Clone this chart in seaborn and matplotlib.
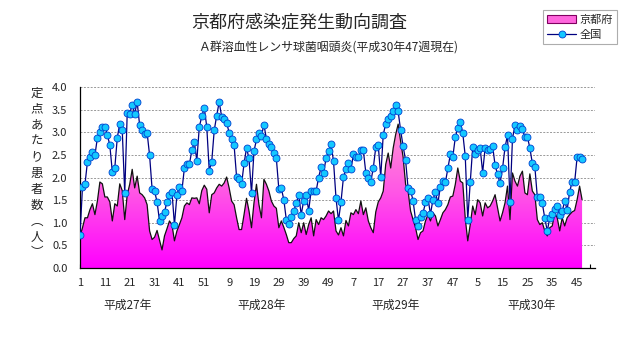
import numpy as np
import pandas as pd
import matplotlib
matplotlib.use("Agg")
import matplotlib.pyplot as plt
import seaborn as sns
from matplotlib.colors import LinearSegmentedColormap
from matplotlib.patches import Patch
from matplotlib.lines import Line2D

# ---------------- data ----------------
year_names = ["平成27年", "平成28年", "平成29年", "平成30年"]
weeks_per_year = [52, 52, 52, 47]
series_names = ["京都府", "全国"]

kyoto = [
    0.70, 0.89, 1.11, 1.11, 1.29, 1.42, 1.18, 1.48, 1.90, 1.86,
    1.57, 1.57, 1.46, 1.04, 1.42, 1.37, 1.86, 1.71, 1.07, 1.62,
    1.85, 2.18, 1.77, 2.03, 1.66, 1.62, 1.55, 1.40, 0.82, 0.63,
    0.68, 0.83, 0.61, 0.40, 0.71, 0.87, 1.04, 0.96, 0.60, 0.82,
    0.96, 1.11, 1.37, 1.44, 1.40, 1.55, 1.54, 1.55, 1.42, 1.71,
    1.83, 1.74, 1.22, 1.62, 1.66, 1.77, 1.85, 1.81, 1.88, 2.01,
    1.77, 1.48, 1.40, 1.11, 0.85, 0.85, 1.18, 1.54, 1.26, 0.89,
    1.44, 1.85, 1.40, 1.11, 1.96, 1.85, 1.70, 1.48, 1.37, 1.32,
    0.89, 1.04, 0.90, 0.74, 0.56, 0.56, 0.65, 0.71, 1.00, 0.78,
    1.00, 0.74, 0.96, 1.11, 0.71, 1.07, 0.96, 1.11, 1.07, 1.15,
    1.26, 1.20, 1.26, 0.82, 0.73, 0.89, 0.71, 1.05, 0.93, 1.22,
    1.18, 1.29, 1.20, 1.48, 1.18, 1.33, 1.04, 0.89, 0.78, 1.24,
    1.46, 1.55, 1.70, 2.29, 2.54, 2.21, 2.65, 2.95, 3.18, 2.80,
    2.45, 1.85, 1.70, 1.26, 1.07, 0.89, 0.63, 0.78, 0.82, 1.04,
    1.18, 1.04, 1.22, 1.15, 0.93, 1.07, 1.22, 1.29, 1.40, 1.57,
    1.59, 1.85, 2.21, 1.92, 1.88, 1.10, 0.60, 0.96, 1.37, 1.18,
    1.51, 1.44, 1.15, 1.44, 1.33, 1.37, 1.48, 1.62, 1.33, 1.04,
    1.22, 1.44, 1.81, 1.07, 2.10, 1.92, 1.81, 2.03, 2.14, 1.66,
    1.62, 2.08, 1.70, 1.62, 1.07, 0.96, 1.00, 0.82, 0.71, 0.89,
    0.93, 1.22, 1.11, 0.82, 1.11, 0.93, 1.11, 1.18, 1.24, 1.27,
    1.51, 1.81, 1.51,
]

national = [
    0.73, 1.79, 1.85, 2.35, 2.45, 2.57, 2.49, 2.88, 3.01, 3.12,
    3.12, 2.95, 2.71, 2.13, 2.21, 2.88, 3.19, 3.04, 1.65, 3.43,
    3.41, 3.61, 3.41, 3.67, 3.15, 3.04, 2.97, 2.99, 2.49, 1.75,
    1.70, 1.46, 1.04, 1.15, 1.24, 1.46, 1.62, 1.69, 0.95, 1.62,
    1.80, 1.71, 2.21, 2.29, 2.29, 2.60, 2.78, 2.37, 3.12, 3.35,
    3.54, 3.12, 2.15, 2.35, 3.04, 3.37, 3.67, 3.34, 3.29, 3.21,
    2.99, 2.85, 2.71, 2.01, 1.97, 1.85, 2.31, 2.65, 2.42, 1.65,
    2.58, 2.84, 2.98, 2.92, 3.17, 2.85, 2.75, 2.68, 2.55, 2.42,
    1.74, 1.76, 1.51, 1.07, 0.97, 1.13, 1.25, 1.44, 1.61, 1.18,
    1.49, 1.61, 1.27, 1.71, 1.70, 1.70, 2.00, 2.23, 2.09, 2.43,
    2.58, 2.73, 2.36, 1.54, 1.05, 1.46, 2.01, 2.18, 2.33, 2.18,
    2.51, 2.46, 2.45, 2.61, 2.60, 2.10, 1.98, 1.91, 2.21, 2.67,
    2.71, 2.01, 2.95, 3.18, 3.29, 3.35, 3.46, 3.61, 3.46, 3.04,
    2.69, 2.38, 1.76, 1.71, 1.49, 1.06, 0.93, 1.13, 1.21, 1.45,
    1.54, 1.19, 1.51, 1.67, 1.44, 1.80, 1.93, 1.89, 2.20, 2.51,
    2.46, 2.89, 3.09, 3.22, 2.98, 2.47, 1.07, 1.89, 2.67, 2.53,
    2.61, 2.65, 2.11, 2.66, 2.60, 2.63, 2.70, 2.27, 2.07, 1.87,
    2.20, 2.67, 2.93, 1.46, 2.86, 3.15, 3.04, 3.13, 3.07, 2.89,
    2.90, 2.65, 2.31, 2.24, 1.56, 1.56, 1.43, 1.10, 0.82, 1.10,
    1.19, 1.30, 1.38, 1.17, 1.25, 1.48, 1.29, 1.68, 1.91, 1.89,
    2.45, 2.46, 2.40,
]

yticks = [0.0, 0.5, 1.0, 1.5, 2.0, 2.5, 3.0, 3.5, 4.0]

weeks = [w for n in weeks_per_year for w in range(1, n + 1)]
df = pd.DataFrame({"idx": np.arange(len(weeks)), "week": weeks,
                   "kyoto": kyoto, "national": national})

# ---------------- style ----------------
sns.set_theme(style="white")
plt.rcParams["font.family"] = ["Noto Sans CJK JP", "DejaVu Sans"]
plt.rcParams["axes.unicode_minus"] = False

fig = plt.figure(figsize=(6.31, 3.47), dpi=100)
ax = fig.add_axes([80 / 631, 1 - 268 / 347, (595 - 80) / 631, (268 - 87) / 347])

x = df["idx"].to_numpy()
xmax = 207.2

# gradient filled area (京都府)
poly = ax.fill_between(x, 0, df["kyoto"], facecolor="none", edgecolor="none", zorder=2)
cmap = LinearSegmentedColormap.from_list("pk", ["#FF00FF", "#FF55E6", "#FF9AD2"])
grad = np.linspace(0, 1, 256).reshape(-1, 1)
im = ax.imshow(grad, extent=[0, xmax, 0, 3.3], origin="lower", aspect="auto",
               cmap=cmap, zorder=2, interpolation="bilinear")
im.set_clip_path(poly.get_paths()[0], ax.transData)

sns.lineplot(data=df, x="idx", y="kyoto", ax=ax, color="#111111", lw=0.9, zorder=3)
sns.lineplot(data=df, x="idx", y="national", ax=ax, color="#000080", lw=0.9,
             marker="o", markersize=5, markerfacecolor="#14C8FF",
             markeredgecolor="#0040D0", markeredgewidth=0.6, zorder=4)

ax.set_xlim(0, xmax)
ax.set_ylim(0, 4.0)

# grid
ax.set_yticks(yticks)
ax.set_yticklabels([f"{v:.1f}" for v in yticks], fontsize=8)
ax.yaxis.grid(True, color="#999999", linestyle=(0, (2, 1.5)), linewidth=0.7)
ax.set_axisbelow(True)

major = df["idx"].to_numpy()[::10]
ax.set_xticks(major)
ax.set_xticklabels([str(w) for w in df["week"].to_numpy()[::10]], fontsize=8)
ax.set_xticks(np.arange(5, 207, 10), minor=True)
ax.tick_params(axis="x", which="both", direction="in", length=3, width=0.8,
               color="black", pad=7.5, bottom=True)
ax.tick_params(axis="y", length=0, pad=9)

for s in ["top", "right"]:
    ax.spines[s].set_visible(False)
for s in ["left", "bottom"]:
    ax.spines[s].set_color("black")
    ax.spines[s].set_linewidth(0.9)

ax.set_xlabel("")
ax.set_ylabel("")

# year labels
year_label_pos = [19, 73, 127, 181.5]
for name, xp in zip(year_names, year_label_pos):
    ax.text(xp, -0.17, name, transform=ax.get_xaxis_transform(),
            ha="center", va="top", fontsize=8.5)

# vertical y label
ylab = "定点あたり患者数︵人︶"
fig.text(37 / 631, 1 - 173 / 347, "\n".join(ylab), ha="center", va="center",
         fontsize=9, linespacing=1.3)

# titles
fig.text(299 / 631, 1 - 22 / 347, "京都府感染症発生動向調査", ha="center", va="center",
         fontsize=13)
fig.text(328 / 631, 1 - 48 / 347, "Ａ群溶血性レンサ球菌咽頭炎(平成30年47週現在)",
         ha="center", va="center", fontsize=8.6)

# legend
handles = [Patch(facecolor="#FF66DD", edgecolor="#800060", linewidth=0.8),
           Line2D([0], [0], color="#000080", lw=0.9, marker="o", markersize=5,
                  markerfacecolor="#14C8FF", markeredgecolor="#0040D0", markeredgewidth=0.6)]
leg = fig.legend(handles, series_names, loc="upper left",
                 bbox_to_anchor=(543 / 631, 1 - 10 / 347), fontsize=8,
                 frameon=True, fancybox=False, edgecolor="#999999",
                 borderpad=0.4, labelspacing=0.45, handlelength=2.6,
                 handletextpad=0.3, borderaxespad=0)
leg.get_frame().set_linewidth(0.8)

fig.savefig("out.png", dpi=100)
